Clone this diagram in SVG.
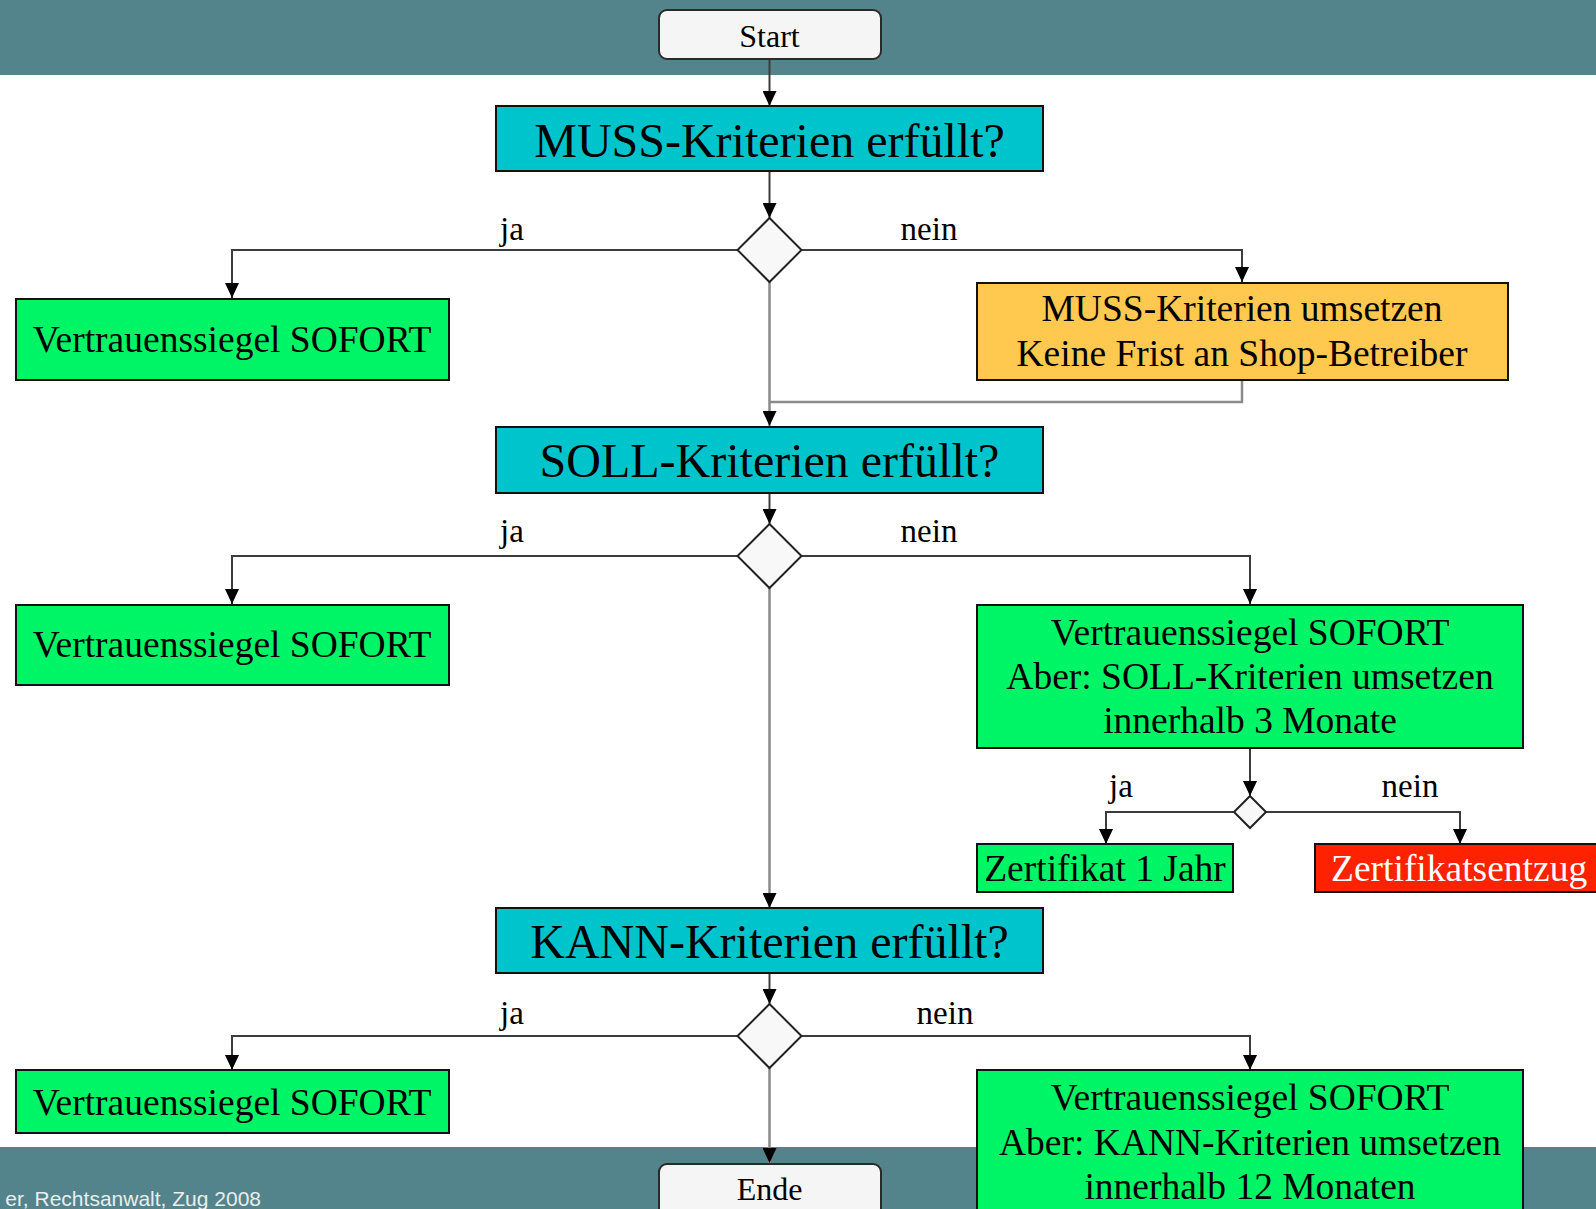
<svg xmlns="http://www.w3.org/2000/svg" width="1596" height="1209" viewBox="0 0 1596 1209">
<defs>
<style>
.t{font-family:"Liberation Serif","Times New Roman",serif;fill:#000;text-anchor:middle}
.big{font-size:48px}
.mid{font-size:37.5px}
.lbl{font-size:33px}
.term{fill:#f5f5f5;stroke:#2a2a2a;stroke-width:2}
.q{fill:#00c4cc;stroke:#111;stroke-width:2}
.g{fill:#00f566;stroke:#111;stroke-width:2}
.o{fill:#ffc84e;stroke:#111;stroke-width:2}
.r{fill:#ff2200;stroke:#111;stroke-width:2}
.dia{fill:#f8f8f8;stroke:#222;stroke-width:2}
.c{fill:none;stroke:#3c3c3c;stroke-width:2}
.cv{fill:none;stroke:#8a8a8a;stroke-width:2.5}
.banner{fill:#53848b}
</style>
<marker id="ah" viewBox="0 0 15 14" refX="15" refY="7" markerWidth="15" markerHeight="14" markerUnits="userSpaceOnUse" orient="auto">
<path d="M0,0 L15,7 L0,14 z" fill="#000"/>
</marker>
</defs>
<rect x="0" y="0" width="1596" height="1209" fill="#fff"/>
<rect class="banner" x="0" y="0" width="1596" height="75"/>
<rect class="banner" x="0" y="1147" width="1596" height="62"/>
<text x="261" y="1206" font-family="Liberation Sans, Arial, sans-serif" font-size="21" fill="#e8eeee" text-anchor="end">er, Rechtsanwalt, Zug 2008</text>

<g id="connectors">
<path class="c" d="M769.5,59 V106" marker-end="url(#ah)"/>
<path class="c" d="M769.5,171 V218" marker-end="url(#ah)"/>
<path class="c" d="M737.5,250 H232 V298" marker-end="url(#ah)"/>
<path class="c" d="M801.5,250 H1242 V282" marker-end="url(#ah)"/>
<path class="cv" d="M769.5,282 V426" marker-end="url(#ah)"/>
<path class="cv" d="M1242,380 V402 H769.5"/>
<path class="c" d="M769.5,493 V524" marker-end="url(#ah)"/>
<path class="c" d="M737.5,556 H232 V604" marker-end="url(#ah)"/>
<path class="c" d="M801.5,556 H1250 V604" marker-end="url(#ah)"/>
<path class="cv" d="M769.5,588 V908" marker-end="url(#ah)"/>
<path class="c" d="M1250,748 V796" marker-end="url(#ah)"/>
<path class="c" d="M1234,812 H1106 V844" marker-end="url(#ah)"/>
<path class="c" d="M1266,812 H1460 V844" marker-end="url(#ah)"/>
<path class="c" d="M769.5,973 V1004" marker-end="url(#ah)"/>
<path class="c" d="M737.5,1036 H232 V1070" marker-end="url(#ah)"/>
<path class="c" d="M801.5,1036 H1250 V1070" marker-end="url(#ah)"/>
<path class="cv" d="M769.5,1068 V1163" marker-end="url(#ah)"/>
<text class="t lbl" x="512" y="240">ja</text>
<text class="t lbl" x="929" y="240">nein</text>
<text class="t lbl" x="512" y="542">ja</text>
<text class="t lbl" x="929" y="542">nein</text>
<text class="t lbl" x="1121" y="797">ja</text>
<text class="t lbl" x="1410" y="797">nein</text>
<text class="t lbl" x="512" y="1024">ja</text>
<text class="t lbl" x="945" y="1024">nein</text>
</g>

<g id="start">
<rect class="term" x="659" y="10" width="222" height="49" rx="8"/>
<text class="t" x="769.5" y="47" font-size="32">Start</text>
</g>
<g id="muss">
<rect class="q" x="496" y="106" width="547" height="65"/>
<text class="t big" x="769.5" y="157">MUSS-Kriterien erfüllt?</text>
</g>
<g id="d1"><path class="dia" d="M769.5,218 L801.5,250 L769.5,282 L737.5,250 z"/></g>
<g id="muss-ja">
<rect class="g" x="16" y="299" width="433" height="81"/>
<text class="t mid" x="232" y="352">Vertrauenssiegel SOFORT</text>
</g>
<g id="muss-nein">
<rect class="o" x="977" y="283" width="531" height="97"/>
<text class="t mid" x="1242" y="321">MUSS-Kriterien umsetzen</text>
<text class="t mid" x="1242" y="366">Keine Frist an Shop-Betreiber</text>
</g>
<g id="soll">
<rect class="q" x="496" y="427" width="547" height="66"/>
<text class="t big" x="769.5" y="477">SOLL-Kriterien erfüllt?</text>
</g>
<g id="d2"><path class="dia" d="M769.5,524 L801.5,556 L769.5,588 L737.5,556 z"/></g>
<g id="soll-ja">
<rect class="g" x="16" y="605" width="433" height="80"/>
<text class="t mid" x="232" y="657">Vertrauenssiegel SOFORT</text>
</g>
<g id="soll-nein">
<rect class="g" x="977" y="605" width="546" height="143"/>
<text class="t mid" x="1250" y="645">Vertrauenssiegel SOFORT</text>
<text class="t mid" x="1250" y="689">Aber: SOLL-Kriterien umsetzen</text>
<text class="t mid" x="1250" y="733">innerhalb 3 Monate</text>
</g>
<g id="d3"><path class="dia" d="M1250,796 L1266,812 L1250,828 L1234,812 z"/></g>
<g id="zert">
<rect class="g" x="977" y="844" width="256" height="48"/>
<text class="t mid" x="1105" y="881">Zertifikat 1 Jahr</text>
</g>
<g id="entzug">
<rect class="r" x="1315" y="844" width="300" height="48"/>
<text class="t mid" x="1331" y="881" style="text-anchor:start;fill:#fff">Zertifikatsentzug</text>
</g>
<g id="kann">
<rect class="q" x="496" y="908" width="547" height="65"/>
<text class="t big" x="769.5" y="958">KANN-Kriterien erfüllt?</text>
</g>
<g id="d4"><path class="dia" d="M769.5,1004 L801.5,1036 L769.5,1068 L737.5,1036 z"/></g>
<g id="kann-ja">
<rect class="g" x="16" y="1070" width="433" height="63"/>
<text class="t mid" x="232" y="1115">Vertrauenssiegel SOFORT</text>
</g>
<g id="kann-nein">
<rect class="g" x="977" y="1070" width="546" height="160"/>
<text class="t mid" x="1250" y="1110">Vertrauenssiegel SOFORT</text>
<text class="t mid" x="1250" y="1155">Aber: KANN-Kriterien umsetzen</text>
<text class="t mid" x="1250" y="1199">innerhalb 12 Monaten</text>
</g>
<g id="ende">
<rect class="term" x="659" y="1164" width="222" height="60" rx="8"/>
<text class="t" x="769.5" y="1200" font-size="32">Ende</text>
</g>
</svg>
